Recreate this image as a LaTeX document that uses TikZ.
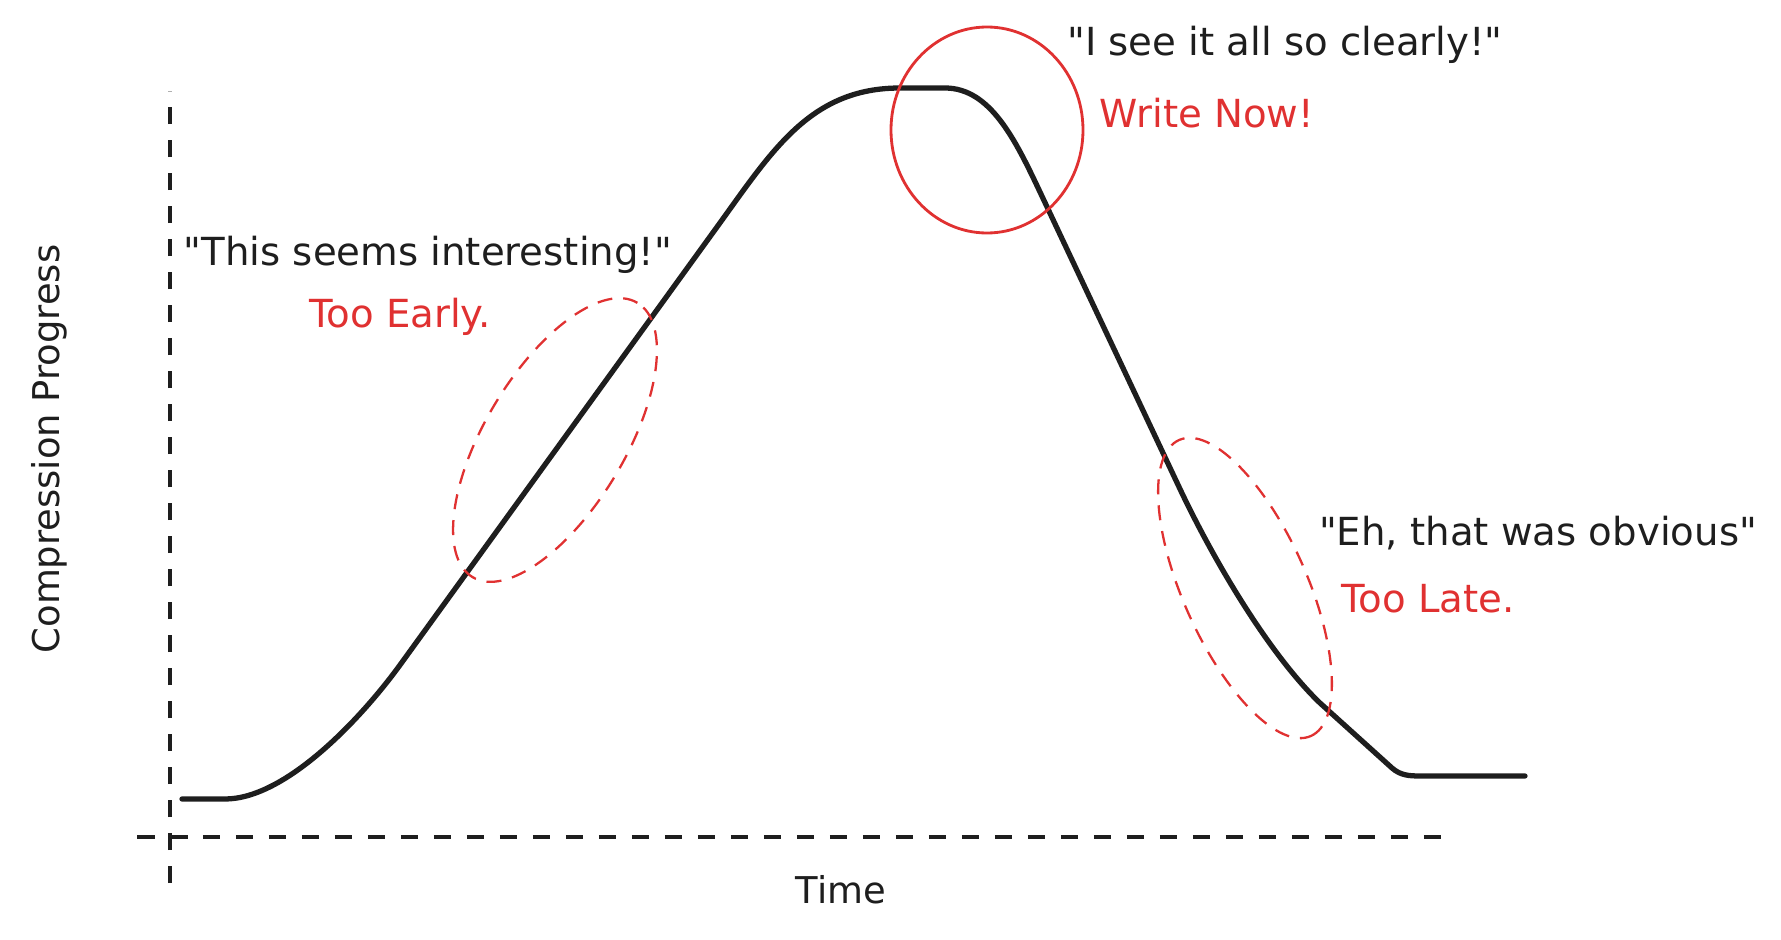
\documentclass[tikz,border=0pt]{standalone}
\usepackage{fontspec}
\setmainfont{DejaVu Sans}[Ligatures=TeXOff]
\usetikzlibrary{shapes.geometric}

\definecolor{ink}{HTML}{1E1E1E}
\definecolor{pen}{HTML}{E03131}

\begin{document}
\begin{tikzpicture}[x=0.1mm,y=-0.1mm,
  axis/.style={ink,line width=0.9pt,dash pattern=on 1.75mm off 1.55mm},
  say/.style={ink,inner sep=0,anchor=base,font=\fontsize{11}{13}\selectfont},
  verdict/.style={say,text=pen},
  label/.style={ink,inner sep=0,anchor=base,font=\fontsize{10.5}{12}\selectfont},
  ring/.style={draw=pen,ellipse,inner sep=0,line width=0.65pt,dash pattern=on 1.5mm off 1.1mm}]

\useasboundingbox (0,0) rectangle (1781,940);

\coordinate (ytop) at (170,91);
\coordinate (ybot) at (170,883);
\coordinate (xl) at (137,837);
\coordinate (xr) at (1442,837);

\draw[axis] (ybot) -- (ytop);
\draw[axis] (xl) -- (xr);

\node[label] (time) at (841,903) {Time};
\node[label,rotate=90] (prog) at (60,449) {Compression Progress};

% the curve
\draw[ink,line width=1.5pt,line cap=round,line join=round]
  (182,799) -- (225,799)
  .. controls (285,799) and (360,720) .. (400,665)
  -- (717,227)
  .. controls (772,151) and (810,88) .. (900,88)
  -- (945,88)
  .. controls (990,88) and (1015,139) .. (1040,192)
  -- (1180,489)
  .. controls (1215,563) and (1270,655) .. (1320,703)
  -- (1392,768)
  .. controls (1400,775) and (1408,776) .. (1420,776)
  -- (1525,776);

\node[ring,rotate=59,minimum width=3.2cm,minimum height=1.4cm] (early ring) at (555,440) {};
\node[ring,rotate=-66,minimum width=3.24cm,minimum height=1.24cm] (late ring) at (1245,588) {};
\node[draw=pen,ellipse,inner sep=0,line width=0.8pt,minimum width=1.92cm,minimum height=2.06cm] (now ring) at (987,130) {};

\node[say] (clear) at (1285,55) {"I see it all so clearly!"};
\node[verdict] (now) at (1207,128) {Write Now!};
\node[say] (interest) at (428,265) {"This seems interesting!"};
\node[verdict] (early) at (400,327) {Too Early.};
\node[say] (obvious) at (1538,545) {"Eh, that was obvious"};
\node[verdict] (late) at (1428,612) {Too Late.};

\end{tikzpicture}
\end{document}
